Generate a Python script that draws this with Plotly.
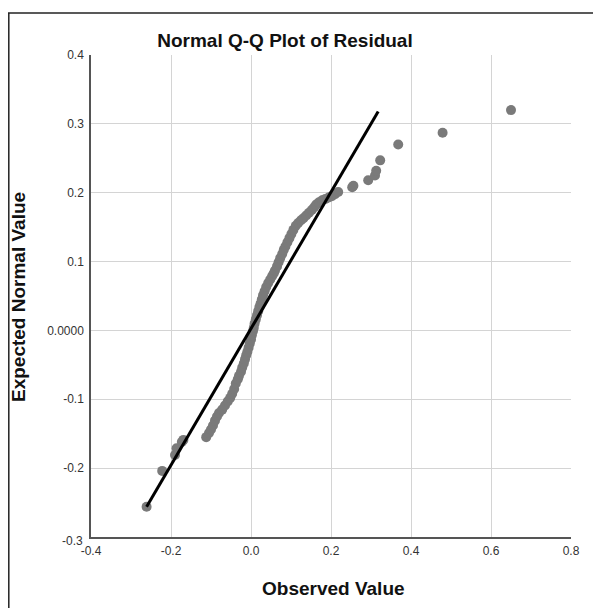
import plotly.graph_objects as go

observed = [
    -0.261, -0.222, -0.190, -0.186, -0.173, -0.169,
    -0.112, -0.105, -0.100, -0.095, -0.090, -0.085, -0.080, -0.072, -0.065, -0.058,
    -0.052, -0.047, -0.042, -0.038, -0.033, -0.030, -0.025, -0.022, -0.018,
    -0.015, -0.012, -0.009, -0.006, -0.003, 0.000, 0.002, 0.005, 0.007, 0.009,
    0.012, 0.015, 0.018, 0.021, 0.024, 0.027, 0.030, 0.034, 0.038, 0.043,
    0.048, 0.053, 0.057, 0.060, 0.065, 0.069, 0.073, 0.078, 0.082, 0.086,
    0.091, 0.096, 0.101, 0.106, 0.112, 0.118, 0.125, 0.131, 0.138, 0.145,
    0.152, 0.158, 0.163, 0.170, 0.178, 0.186, 0.194, 0.202, 0.210, 0.218,
    0.253, 0.256, 0.293, 0.310, 0.313, 0.323, 0.368, 0.479, 0.650,
]
expected = [
    -0.256, -0.204, -0.181, -0.171, -0.162, -0.159,
    -0.155, -0.149, -0.144, -0.138, -0.131, -0.125, -0.120, -0.115, -0.109, -0.103,
    -0.098, -0.092, -0.085, -0.077, -0.071, -0.066, -0.060, -0.054, -0.048,
    -0.042, -0.036, -0.031, -0.025, -0.019, -0.013, -0.007, -0.001, 0.004, 0.010,
    0.016, 0.022, 0.028, 0.034, 0.039, 0.045, 0.051, 0.057, 0.063, 0.069,
    0.074, 0.079, 0.083, 0.087, 0.093, 0.099, 0.105, 0.111, 0.117, 0.122,
    0.128, 0.134, 0.140, 0.146, 0.152, 0.156, 0.160, 0.163, 0.167, 0.171,
    0.175, 0.179, 0.183, 0.186, 0.189, 0.191, 0.193, 0.195, 0.198, 0.201,
    0.208, 0.210, 0.218, 0.225, 0.232, 0.247, 0.270, 0.287, 0.320,
]

# Reference line end points
line_x = [-0.261, 0.318]
line_y = [-0.256, 0.318]

x_ticks = [-0.4, -0.2, 0.0, 0.2, 0.4, 0.6, 0.8]
x_tick_labels = ["-0.4", "-0.2", "0.0", "0.2", "0.4", "0.6", "0.8"]
y_ticks = [0.4, 0.3, 0.2, 0.1, 0.0, -0.1, -0.2, -0.3]
y_tick_labels = ["0.4", "0.3", "0.2", "0.1", "0.0000", "-0.1", "-0.2", ""]
y_bottom_label = "-0.3"

FONT = "Arial, Liberation Sans, sans-serif"

# page body has an 8px margin: figure is laid out in screen pixels minus 8
W, H = 593, 600
L, T, PW, PH = 83, 47, 480, 482


def px_x(sx):
    return (sx - 8 - L) / PW


def px_y(sy):
    return (T + PH - (sy - 8)) / PH


fig = go.Figure()
fig.add_trace(go.Scatter(
    x=observed, y=expected, mode="markers",
    marker=dict(color="#7a7a7a", size=10, line=dict(width=0)),
    showlegend=False, hoverinfo="x+y",
))
fig.add_trace(go.Scatter(
    x=line_x, y=line_y, mode="lines",
    line=dict(color="#000000", width=3),
    showlegend=False, hoverinfo="skip",
))

fig.update_layout(
    width=W, height=H,
    margin=dict(l=L, r=W - L - PW, t=T, b=H - T - PH),
    paper_bgcolor="white", plot_bgcolor="white",
    font=dict(family=FONT, color="#333333", size=12),
    title=dict(
        text="<b>Normal Q-Q Plot of Residual</b>",
        x=(285 - 8) / W, xanchor="center", xref="container",
        y=1 - (40 - 8) / H, yanchor="middle", yref="container",
        font=dict(family=FONT, size=19, color="#111111"),
    ),
    xaxis=dict(
        range=[-0.4, 0.8], tickvals=x_ticks, ticktext=x_tick_labels,
        showgrid=True, gridcolor="#d4d4d4", gridwidth=1,
        zeroline=False, showline=True, linecolor="#555555", linewidth=1.5,
        ticks="", ticklabelstandoff=2,
        tickfont=dict(family=FONT, size=12, color="#333333"),
    ),
    yaxis=dict(
        range=[-0.3, 0.4], tickvals=y_ticks, ticktext=y_tick_labels,
        showgrid=True, gridcolor="#d4d4d4", gridwidth=1,
        zeroline=False, showline=True, linecolor="#555555", linewidth=1.5,
        ticks="", ticklabelstandoff=3,
        tickfont=dict(family=FONT, size=12, color="#333333"),
    ),
    annotations=[
        dict(text=y_bottom_label, x=-0.4, y=-0.3, xref="x", yref="y",
             xanchor="right", yanchor="middle", xshift=-6, yshift=-4,
             showarrow=False, font=dict(family=FONT, size=12, color="#333333")),
        dict(text="<b>Observed Value</b>", x=px_x(333), y=px_y(588),
             xref="paper", yref="paper", xanchor="center", yanchor="middle",
             showarrow=False, font=dict(family=FONT, size=19, color="#111111")),
        dict(text="<b>Expected Normal Value</b>", x=px_x(18), y=px_y(297),
             xref="paper", yref="paper", xanchor="center", yanchor="middle",
             textangle=-90, showarrow=False,
             font=dict(family=FONT, size=19, color="#111111")),
    ],
    shapes=[
        dict(type="line", xref="paper", yref="paper",
             x0=px_x(8.8), x1=px_x(8.8), y0=px_y(13), y1=px_y(620),
             line=dict(color="#222222", width=1.5)),
        dict(type="line", xref="paper", yref="paper",
             x0=px_x(8), x1=px_x(620), y0=px_y(13), y1=px_y(13),
             line=dict(color="#222222", width=1.5)),
    ],
)

fig.write_html("out.html")
